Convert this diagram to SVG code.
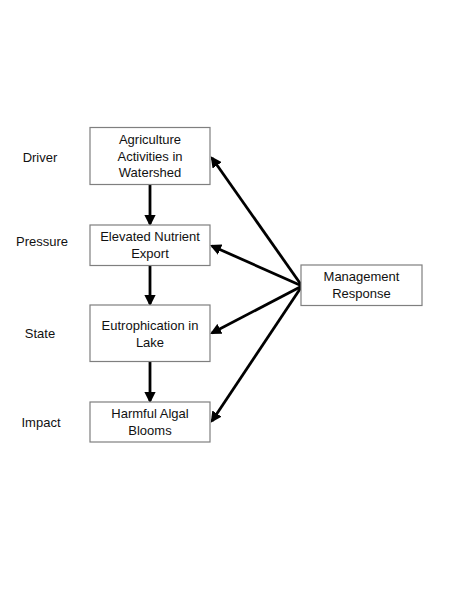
<svg xmlns="http://www.w3.org/2000/svg" width="450" height="592" viewBox="0 0 450 592">
<style>
.box{fill:#fff;stroke:#7f7f7f;stroke-width:1.2}
.t{font-family:"Liberation Sans",Arial,sans-serif;font-size:13px;fill:#111;text-anchor:middle}
.c{stroke:#000;stroke-width:2.8;fill:none;marker-end:url(#ah)}
</style>
<defs>
<marker id="ah" markerWidth="4" markerHeight="4" refX="3.2" refY="2" orient="auto" markerUnits="strokeWidth">
<path d="M0,0 L4,2 L0,4 z" fill="#000"/>
</marker>
</defs>
<rect width="450" height="592" fill="#fff"/>
<g id="labels">
<text class="t" x="40" y="162">Driver</text>
<text class="t" x="42" y="246">Pressure</text>
<text class="t" x="40" y="338">State</text>
<text class="t" x="41" y="427">Impact</text>
</g>
<g id="connectors">
<line class="c" x1="150" y1="185" x2="150" y2="224"/>
<line class="c" x1="150" y1="266" x2="150" y2="304"/>
<line class="c" x1="150" y1="362" x2="150" y2="401"/>
<line class="c" x1="302" y1="286" x2="212" y2="158"/>
<line class="c" x1="302" y1="286" x2="212" y2="246"/>
<line class="c" x1="302" y1="286" x2="212" y2="333"/>
<line class="c" x1="302" y1="286" x2="212" y2="421"/>
</g>
<g id="n1">
<rect class="box" x="90" y="127.5" width="120" height="57"/>
<text class="t" x="150" y="144">Agriculture</text>
<text class="t" x="150" y="160.5">Activities in</text>
<text class="t" x="150" y="177">Watershed</text>
</g>
<g id="n2">
<rect class="box" x="90" y="225" width="120" height="40.5"/>
<text class="t" x="150" y="241">Elevated Nutrient</text>
<text class="t" x="150" y="258">Export</text>
</g>
<g id="n3">
<rect class="box" x="90" y="305" width="120" height="56.5"/>
<text class="t" x="150" y="330">Eutrophication in</text>
<text class="t" x="150" y="347">Lake</text>
</g>
<g id="n4">
<rect class="box" x="90" y="402" width="120" height="40"/>
<text class="t" x="150" y="418">Harmful Algal</text>
<text class="t" x="150" y="435">Blooms</text>
</g>
<g id="n5">
<rect class="box" x="301" y="265" width="121" height="40.5"/>
<text class="t" x="361.5" y="281">Management</text>
<text class="t" x="361.5" y="298">Response</text>
</g>
</svg>
